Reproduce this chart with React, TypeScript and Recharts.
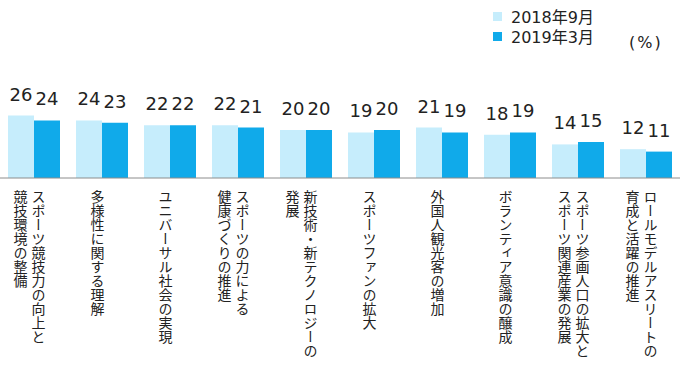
import { BarChart, Bar, XAxis, YAxis, LabelList } from 'recharts';

const CATEGORIES = [
  'スポーツ競技力の向上と\n競技環境の整備',
  '多様性に関する理解',
  'ユニバーサル社会の実現',
  'スポーツの力による\n健康づくりの推進',
  '新技術・新テクノロジーの\n発展',
  'スポーツファンの拡大',
  '外国人観光客の増加',
  'ボランティア意識の醸成',
  'スポーツ参画人口の拡大と\nスポーツ関連産業の発展',
  'ロールモデルアスリートの\n育成と活躍の推進',
];

const SERIES_NAMES = ['2018年9月', '2019年3月'];
const VALUES_2018_09 = [26, 24, 22, 22, 20, 19, 21, 18, 14, 12];
const VALUES_2019_03 = [24, 23, 22, 21, 20, 20, 19, 19, 15, 11];

const COLORS = ['#c6edfc', '#10aaea'];
const NUM_FONT = "'DejaVu Sans', Verdana, sans-serif";
const JP_FONT = "'Noto Sans CJK JP', sans-serif";

const data = CATEGORIES.map((name, i) => ({
  name,
  a: VALUES_2018_09[i],
  b: VALUES_2019_03[i],
}));

function VerticalTick({ x, y, payload }: any) {
  const lines = String(payload.value).split('\n');
  const step = 18;
  const start = x - 4.5 + ((lines.length - 1) * step) / 2;
  return (
    <g>
      {lines.map((line, i) => (
        <text
          key={i}
          x={start - i * step}
          y={y + 12}
          fontSize={14}
          fill="#222"
          fontFamily={JP_FONT}
          style={{ writingMode: 'vertical-rl' } as any}
        >
          {line}
        </text>
      ))}
    </g>
  );
}

function LegendBox() {
  return (
    <div style={{ position: 'absolute', left: 0, top: 0, width: 680, height: 60, fontFamily: NUM_FONT, fontSize: 16, color: '#222' }}>
      {SERIES_NAMES.map((name, i) => (
        <div key={name} style={{ position: 'absolute', left: 493, top: 6 + i * 20, height: 20, display: 'flex', alignItems: 'center' }}>
          <span style={{ display: 'inline-block', width: 9, height: 9, background: COLORS[i], marginRight: 9 }} />
          <span style={{ fontFamily: `${NUM_FONT.split(',')[0]}, ${JP_FONT}` }}>{name}</span>
        </div>
      ))}
      <div style={{ position: 'absolute', left: 629, top: 33, height: 20, lineHeight: '20px', letterSpacing: 2 }}>(%)</div>
    </div>
  );
}

export default function App() {
  return (
    <div style={{ position: 'absolute', left: 0, top: 0, width: 680, height: 370, background: '#fff' }}>
      <BarChart
        width={680}
        height={370}
        data={data}
        margin={{ top: 82, right: 0, bottom: 0, left: 0 }}
        barSize={26}
        barGap={0}
      >
        <YAxis hide domain={[0, 40]} />
        <XAxis
          dataKey="name"
          height={192}
          interval={0}
          tickLine={false}
          tickSize={0}
          tickMargin={0}
          axisLine={{ stroke: '#8c8c8c', strokeWidth: 1 }}
          tick={<VerticalTick />}
        />
        <Bar dataKey="a" name={SERIES_NAMES[0]} fill={COLORS[0]} isAnimationActive={false}>
          <LabelList dataKey="a" position="top" offset={15} fontSize={18} fill="#222" fontFamily={NUM_FONT} />
        </Bar>
        <Bar dataKey="b" name={SERIES_NAMES[1]} fill={COLORS[1]} isAnimationActive={false}>
          <LabelList dataKey="b" position="top" offset={15} fontSize={18} fill="#222" fontFamily={NUM_FONT} />
        </Bar>
      </BarChart>
      <LegendBox />
    </div>
  );
}
